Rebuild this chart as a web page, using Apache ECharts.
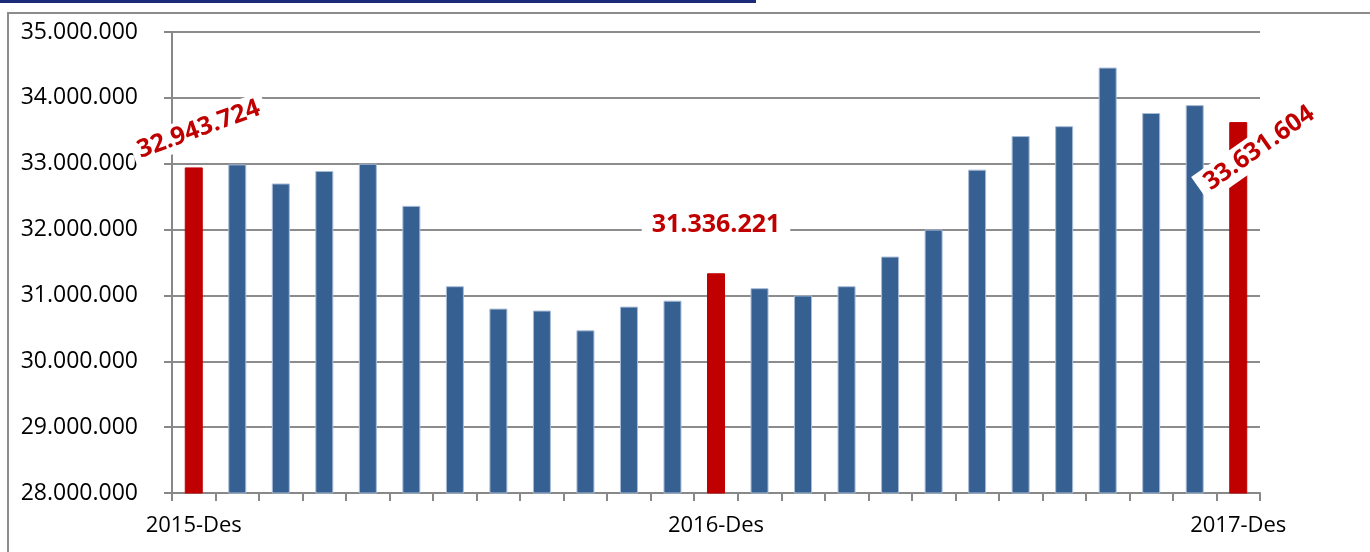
<!DOCTYPE html>
<html>
<head>
<meta charset="utf-8">
<script src="https://cdn.jsdelivr.net/npm/echarts@6/dist/echarts.min.js"></script>
<style>
  html, body { margin: 0; padding: 0; background: #fff; }
  #chart { width: 1370px; height: 552px; }
</style>
</head>
<body>
<div id="chart"></div>
<script>
// bulan Des 2015 .. Des 2017
var months = ['2015-Des', '2016-Jan', '2016-Feb', '2016-Mar', '2016-Apr', '2016-Mei', '2016-Jun',
  '2016-Jul', '2016-Agu', '2016-Sep', '2016-Okt', '2016-Nov', '2016-Des',
  '2017-Jan', '2017-Feb', '2017-Mar', '2017-Apr', '2017-Mei', '2017-Jun',
  '2017-Jul', '2017-Agu', '2017-Sep', '2017-Okt', '2017-Nov', '2017-Des'];
var values = [32943724, 32990000, 32700000, 32890000, 33000000, 32360000, 31140000,
  30800000, 30770000, 30470000, 30830000, 30920000, 31336221,
  31110000, 31000000, 31140000, 31590000, 32000000, 32910000,
  33420000, 33570000, 34460000, 33770000, 33890000, 33631604];
var highlight = [0, 12, 24];   // bulan Desember (merah)
var yTicks = { min: 28000000, max: 35000000, step: 1000000 };

var blue = '#376092';
var red = '#c00000';
var FONT = '"Open Sans", "Liberation Sans", sans-serif';

function fmt(v) {
  return String(v).replace(/\B(?=(\d{3})+(?!\d))/g, '.');
}

// label khusus untuk bar merah
var labelCfg = {
  0: { rotate: 20, position: [14, -38], padding: [2, 6] },
  12: { rotate: 0, position: [9, -48], padding: [2, 10] },
  24: { rotate: 35, position: [30, 26], padding: [3, 8] }
};

var barData = values.map(function (v, i) {
  var item = { value: v };
  if (highlight.indexOf(i) >= 0) {
    var c = labelCfg[i];
    item.itemStyle = { color: red, borderColor: red };
    item.label = {
      show: true,
      rotate: c.rotate,
      position: c.position,
      align: 'center',
      verticalAlign: 'middle',
      color: red,
      fontFamily: FONT,
      fontWeight: 'bold',
      fontSize: 25,
      backgroundColor: '#fff',
      padding: c.padding,
      formatter: fmt(v)
    };
  }
  return item;
});

var chart = echarts.init(document.getElementById('chart'));
var option = {
  backgroundColor: '#ffffff',
  animation: false,
  graphic: [
    { type: 'rect', shape: { x: 0, y: 0, width: 756, height: 3 }, style: { fill: '#1b2b78' } },
    { type: 'line', shape: { x1: 7, y1: 13, x2: 1370, y2: 13 }, style: { stroke: '#8c8c8c', lineWidth: 2 } },
    { type: 'line', shape: { x1: 8, y1: 12, x2: 8, y2: 552 }, style: { stroke: '#8c8c8c', lineWidth: 2 } }
  ],
  grid: {
    left: 172,
    right: 110,
    top: 32,
    bottom: 59
  },
  xAxis: {
    type: 'category',
    data: months,
    axisLine: { lineStyle: { color: '#888', width: 2 } },
    axisTick: { show: true, interval: 0, length: 8, lineStyle: { color: '#888', width: 2 } },
    axisLabel: {
      interval: 11,
      margin: 22,
      color: '#000',
      fontFamily: FONT,
      fontSize: 22
    },
    splitLine: { show: false }
  },
  yAxis: {
    type: 'value',
    min: yTicks.min,
    max: yTicks.max,
    interval: yTicks.step,
    axisLine: { show: true, lineStyle: { color: '#888', width: 2 } },
    axisTick: { show: true, length: 8, lineStyle: { color: '#888', width: 2 } },
    axisLabel: {
      margin: 34,
      color: '#000',
      fontFamily: FONT,
      fontSize: 23,
      formatter: function (v) { return fmt(v); }
    },
    splitLine: { lineStyle: { color: '#8c8c8c', width: 2 } }
  },
  series: [{
    type: 'bar',
    data: barData,
    barWidth: 18,
    itemStyle: { color: blue, borderColor: '#a9bcd6', borderWidth: 1 },
    label: { show: false }
  }]
};
chart.setOption(option);
</script>
</body>
</html>
